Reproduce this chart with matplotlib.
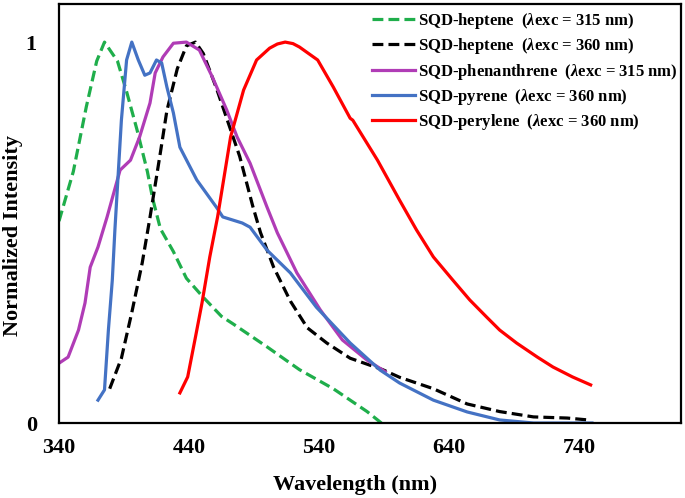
import numpy as np
import matplotlib
matplotlib.use("Agg")
import matplotlib.pyplot as plt

plt.rcParams['font.family'] = ['Liberation Serif', 'DejaVu Serif']
plt.rcParams['font.weight'] = 'bold'
plt.rcParams['mathtext.fontset'] = 'custom'
plt.rcParams['mathtext.it'] = 'Liberation Serif:italic:bold'
plt.rcParams['mathtext.rm'] = 'Liberation Serif:bold'

# SQD-heptene, excitation 315 nm
hep315_wl = [340, 351, 361, 369, 375, 385, 392, 400, 408, 412, 418, 428, 438,
             451, 465, 474, 500, 525, 551, 577, 588]
hep315_i = [0.53, 0.66, 0.83, 0.95, 1.0, 0.95, 0.87, 0.77, 0.66, 0.59, 0.51,
            0.45, 0.38, 0.33, 0.28, 0.26, 0.20, 0.14, 0.09, 0.03, 0.0]

# SQD-heptene, excitation 360 nm
hep360_wl = [379, 388, 396, 404, 410, 418, 423, 431, 438, 445, 451, 461, 471,
             479, 489, 495, 505, 518, 531, 546, 564, 589, 602, 628, 654, 679,
             705, 731, 747]
hep360_i = [0.09, 0.17, 0.29, 0.42, 0.54, 0.71, 0.82, 0.93, 0.99, 1.0, 0.97,
            0.88, 0.78, 0.70, 0.57, 0.50, 0.41, 0.32, 0.25, 0.21, 0.17, 0.14,
            0.12, 0.09, 0.05, 0.03, 0.016, 0.013, 0.008]

# SQD-phenanthrene, excitation 315 nm
phen_wl = [340, 347, 355, 360, 364, 370, 377, 387, 395, 402, 410, 414, 420,
           428, 438, 448, 458, 469, 477, 487, 500, 508, 523, 541, 558, 577,
           589, 591]
phen_i = [0.157, 0.173, 0.244, 0.315, 0.409, 0.462, 0.541, 0.664, 0.69, 0.751,
          0.84, 0.919, 0.961, 0.997, 1.0, 0.979, 0.908, 0.822, 0.751, 0.682,
          0.567, 0.499, 0.394, 0.297, 0.218, 0.165, 0.139, 0.134]

# SQD-pyrene, excitation 360 nm
pyr_wl = [370, 375, 378, 381, 383, 388, 392, 396, 401, 406, 410, 415, 419,
          423, 428, 433, 446, 461, 466, 481, 487, 500, 518, 538, 564, 587,
          602, 628, 654, 679, 705, 750]
pyr_i = [0.06, 0.087, 0.244, 0.375, 0.507, 0.795, 0.953, 1.0, 0.953, 0.913,
         0.919, 0.953, 0.945, 0.882, 0.814, 0.724, 0.638, 0.567, 0.541, 0.525,
         0.514, 0.454, 0.394, 0.304, 0.21, 0.139, 0.105, 0.06, 0.029, 0.008,
         0.0, 0.0]

# SQD-perylene, excitation 360 nm
per_wl = [433, 439, 445, 450, 456, 462, 472, 482, 492, 502, 508, 514, 520,
          525, 539, 551, 564, 566, 585, 602, 615, 628, 643, 656, 669, 679,
          692, 708, 720, 735, 749]
per_i = [0.079, 0.121, 0.226, 0.315, 0.436, 0.541, 0.751, 0.874, 0.953, 0.984,
         0.995, 1.0, 0.996, 0.987, 0.953, 0.882, 0.80, 0.795, 0.69, 0.585,
         0.507, 0.436, 0.375, 0.323, 0.278, 0.244, 0.21, 0.173, 0.147, 0.121,
         0.1]

labels = ['SQD-heptene  ($\\mathit{\\lambda}$exc = 315 nm)',
          'SQD-heptene  ($\\mathit{\\lambda}$exc = 360 nm)',
          'SQD-phenanthrene  ($\\mathit{\\lambda}$exc = 315 nm)',
          'SQD-pyrene  ($\\mathit{\\lambda}$exc = 360 nm)',
          'SQD-perylene  ($\\mathit{\\lambda}$exc = 360 nm)']
xticks = [340, 440, 540, 640, 740]

fig = plt.figure(figsize=(6.85, 4.98), dpi=100)
ax = fig.add_axes([59/685, 75/498, 622/685, 419/498])

lw = 2.3
ax.plot(hep315_wl, hep315_i, color='#1fae4b', lw=lw, ls=(0, (3.4, 1.6)), label=labels[0])
ax.plot(hep360_wl, hep360_i, color='black', lw=lw, ls=(0, (3.4, 1.6)), label=labels[1])
ax.plot(phen_wl, phen_i, color='#b03cb6', lw=lw, label=labels[2])
ax.plot(pyr_wl, pyr_i, color='#4472c4', lw=lw, label=labels[3])
ax.plot(per_wl, per_i, color='#ff0000', lw=lw, label=labels[4])

ax.set_xlim(340, 818.5)
ax.set_ylim(0, 1.1)
ax.set_xticks(xticks)
ax.set_xticklabels([str(t) for t in xticks])
ax.set_yticks([0, 1])
ax.set_yticklabels(['0', '1'])
ax.tick_params(length=0, labelsize=16)
ax.tick_params(axis='x', pad=11)
ax.tick_params(axis='y', pad=16)
for s in ax.spines.values():
    s.set_linewidth(1.6)

ax.set_xlabel('Wavelength (nm)', fontsize=16, fontweight='bold')
ax.xaxis.set_label_coords(0.476, -0.125)
fig.text(13/685, 1 - 235/498, 'Normalized Intensity', rotation=90,
         ha='center', va='center', fontsize=16, fontweight='bold')

ax.legend(loc='upper left', bbox_to_anchor=(372/685, 1 - 11/498),
          bbox_transform=fig.transFigure, frameon=False,
          handlelength=2.6, handletextpad=0.15, labelspacing=0.32,
          borderaxespad=0, borderpad=0, prop={'weight': 'bold', 'size': 12})

fig.savefig('out.png', dpi=100)
